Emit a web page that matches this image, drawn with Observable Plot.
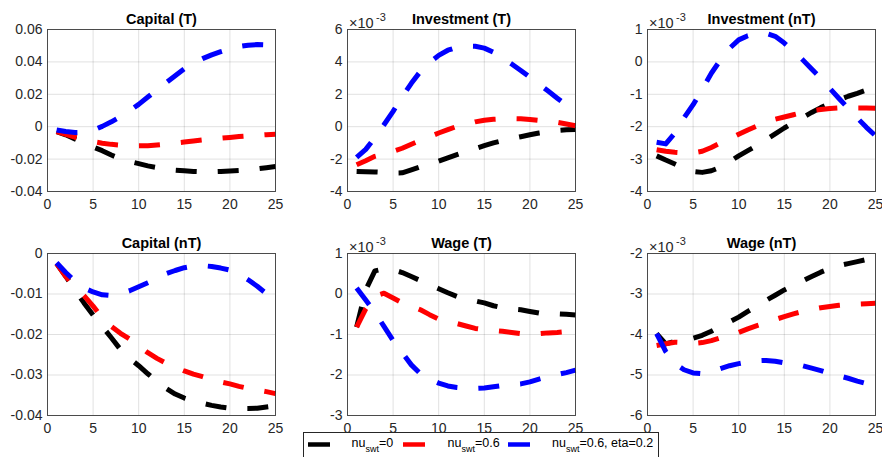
<!DOCTYPE html>
<html>
<head>
<meta charset="utf-8">
<script src="https://cdn.jsdelivr.net/npm/d3@7"></script>
<script src="https://cdn.jsdelivr.net/npm/@observablehq/plot@0.6"></script>
<style>
  html, body { margin: 0; padding: 0; background: #fff; }
  #wrap { position: relative; width: 882px; height: 457px; overflow: hidden; background: #fff;
          font-family: "Liberation Sans", Arial, Helvetica, sans-serif; }
  .panel { position: absolute; width: 300px; }
  .panel svg { display: block; }
  #legend { position: absolute; left: 303px; top: 432px; width: 356px; height: 40px;
            border: 1px solid #262626; background: #fff; box-sizing: border-box; }
</style>
</head>
<body>
<div id="wrap"></div>
<script>
// ---------- data ----------
const steps = [1,2,3,4,5,6,7,8,9,10,11,12,13,14,15,16,17,18,19,20,21,22,23,24,25];
const xTicks = [0,5,10,15,20,25];

const seriesPrefix = "nu";
const seriesSub = "swt";
const seriesSuffix = ["=0", "=0.6", "=0.6, eta=0.2"];
const seriesNames = ["nu_swt=0", "nu_swt=0.6", "nu_swt=0.6, eta=0.2"];
const seriesColors = ["#000000", "#ff0000", "#0000ff"];

// Capital (T)
const capitalT_nu0   = [-0.0030,-0.0050,-0.0075,-0.0100,-0.0125,-0.0148,-0.0175,-0.0198,-0.0215,-0.0228,-0.0242,-0.0252,-0.0262,-0.0268,-0.0272,-0.0276,-0.0278,-0.0278,-0.0276,-0.0273,-0.0270,-0.0266,-0.0260,-0.0253,-0.0246];
const capitalT_nu06  = [-0.0030,-0.0048,-0.0065,-0.0080,-0.0092,-0.0102,-0.0109,-0.0114,-0.0117,-0.0118,-0.0117,-0.0113,-0.0108,-0.0101,-0.0095,-0.0088,-0.0082,-0.0076,-0.0071,-0.0066,-0.0061,-0.0057,-0.0053,-0.0049,-0.0046];
const capitalT_eta   = [-0.0020,-0.0030,-0.0036,-0.0035,-0.0022,0.0002,0.0030,0.0062,0.0098,0.0138,0.0183,0.0227,0.0271,0.0315,0.0358,0.0393,0.0420,0.0443,0.0463,0.0480,0.0495,0.0503,0.0507,0.0505,0.0500];
const capitalT_yTicks = [-0.04,-0.02,0,0.02,0.04,0.06];

// Investment (T)  (x10^-3)
const investT_nu0  = [-2.76,-2.78,-2.79,-2.82,-2.86,-2.85,-2.67,-2.48,-2.30,-2.12,-1.92,-1.72,-1.53,-1.35,-1.17,-1.00,-0.86,-0.73,-0.62,-0.50,-0.39,-0.30,-0.23,-0.19,-0.18];
const investT_nu06 = [-2.35,-2.10,-1.83,-1.68,-1.52,-1.33,-1.08,-0.85,-0.62,-0.39,-0.18,0.02,0.15,0.30,0.40,0.46,0.49,0.50,0.49,0.45,0.39,0.33,0.27,0.17,0.06];
const investT_eta  = [-1.90,-1.40,-0.67,0.12,0.95,1.85,2.68,3.42,3.95,4.40,4.72,4.90,4.98,4.97,4.85,4.60,4.25,3.87,3.47,3.05,2.63,2.20,1.76,1.33,0.90];
const investT_yTicks = [-4,-2,0,2,4,6];

// Investment (nT)  (x10^-3)
const investNT_nu0  = [-2.90,-3.03,-3.15,-3.28,-3.38,-3.41,-3.36,-3.25,-3.08,-2.90,-2.74,-2.58,-2.40,-2.22,-2.04,-1.88,-1.72,-1.56,-1.41,-1.28,-1.17,-1.06,-0.97,-0.87,-0.80];
const investNT_nu06 = [-2.71,-2.76,-2.79,-2.81,-2.81,-2.76,-2.64,-2.50,-2.37,-2.23,-2.10,-1.98,-1.87,-1.77,-1.70,-1.63,-1.56,-1.51,-1.47,-1.44,-1.42,-1.42,-1.42,-1.42,-1.43];
const investNT_eta  = [-2.48,-2.53,-2.20,-1.73,-1.32,-0.85,-0.35,0.06,0.42,0.68,0.81,0.88,0.88,0.79,0.58,0.33,0.07,-0.22,-0.50,-0.82,-1.13,-1.43,-1.73,-2.02,-2.28];
const investNT_yTicks = [-4,-3,-2,-1,0,1];

// Capital (nT)
const capitalNT_nu0  = [-0.0025,-0.0056,-0.0090,-0.0122,-0.0152,-0.0180,-0.0208,-0.0237,-0.0259,-0.0277,-0.0297,-0.0316,-0.0333,-0.0347,-0.0357,-0.0364,-0.0370,-0.0375,-0.0379,-0.0382,-0.0383,-0.0383,-0.0382,-0.0379,-0.0376];
const capitalNT_nu06 = [-0.0025,-0.0057,-0.0082,-0.0104,-0.0130,-0.0158,-0.0180,-0.0197,-0.0211,-0.0228,-0.0245,-0.0259,-0.0271,-0.0281,-0.0290,-0.0298,-0.0304,-0.0311,-0.0317,-0.0322,-0.0328,-0.0333,-0.0337,-0.0341,-0.0346];
const capitalNT_eta  = [-0.0023,-0.0047,-0.0068,-0.0085,-0.0095,-0.0102,-0.0104,-0.0099,-0.0092,-0.0082,-0.0072,-0.0062,-0.0050,-0.0042,-0.0035,-0.0031,-0.0030,-0.0032,-0.0036,-0.0041,-0.0051,-0.0065,-0.0081,-0.0099,-0.0114];
const capitalNT_yTicks = [-0.04,-0.03,-0.02,-0.01,0];

// Wage (T)  (x10^-3)
const wageT_nu0  = [-0.82,0.10,0.57,0.62,0.60,0.53,0.43,0.33,0.23,0.13,0.03,-0.06,-0.12,-0.17,-0.22,-0.29,-0.34,-0.37,-0.39,-0.43,-0.47,-0.48,-0.49,-0.50,-0.52];
const wageT_nu06 = [-0.82,-0.37,-0.05,0.02,-0.10,-0.22,-0.30,-0.39,-0.51,-0.62,-0.68,-0.73,-0.79,-0.85,-0.88,-0.90,-0.92,-0.95,-0.98,-0.99,-0.98,-0.96,-0.95,-0.93,-0.92];
const wageT_eta  = [0.15,-0.15,-0.45,-0.80,-1.15,-1.45,-1.75,-1.97,-2.10,-2.20,-2.27,-2.31,-2.33,-2.33,-2.32,-2.29,-2.26,-2.24,-2.22,-2.17,-2.10,-2.04,-1.99,-1.94,-1.88];
const wageT_yTicks = [-3,-2,-1,0,1];

// Wage (nT)  (x10^-3)
const wageNT_nu0  = [-3.98,-4.23,-4.17,-4.13,-4.09,-4.02,-3.92,-3.80,-3.69,-3.57,-3.43,-3.30,-3.16,-3.03,-2.90,-2.79,-2.68,-2.57,-2.46,-2.37,-2.30,-2.25,-2.20,-2.15,-2.12];
const wageNT_nu06 = [-4.27,-4.23,-4.19,-4.20,-4.22,-4.20,-4.15,-4.08,-4.02,-3.95,-3.86,-3.78,-3.71,-3.63,-3.56,-3.49,-3.43,-3.38,-3.34,-3.31,-3.28,-3.26,-3.25,-3.24,-3.23];
const wageNT_eta  = [-3.98,-4.42,-4.72,-4.87,-4.95,-4.97,-4.92,-4.84,-4.77,-4.72,-4.68,-4.65,-4.64,-4.66,-4.70,-4.73,-4.77,-4.83,-4.89,-4.96,-5.02,-5.08,-5.15,-5.21,-5.26];
const wageNT_yTicks = [-6,-5,-4,-3,-2];

const panels = [
  {title: "Capital (T)",     series: [capitalT_nu0, capitalT_nu06, capitalT_eta],   yTicks: capitalT_yTicks,   exp: false, col: 0, row: 0},
  {title: "Investment (T)",  series: [investT_nu0, investT_nu06, investT_eta],      yTicks: investT_yTicks,    exp: true,  col: 1, row: 0},
  {title: "Investment (nT)", series: [investNT_nu0, investNT_nu06, investNT_eta],   yTicks: investNT_yTicks,   exp: true,  col: 2, row: 0},
  {title: "Capital (nT)",    series: [capitalNT_nu0, capitalNT_nu06, capitalNT_eta],yTicks: capitalNT_yTicks,  exp: false, col: 0, row: 1},
  {title: "Wage (T)",        series: [wageT_nu0, wageT_nu06, wageT_eta],            yTicks: wageT_yTicks,      exp: true,  col: 1, row: 1},
  {title: "Wage (nT)",       series: [wageNT_nu0, wageNT_nu06, wageNT_eta],         yTicks: wageNT_yTicks,     exp: true,  col: 2, row: 1}
];

// ---------- layout ----------
const colX = [47, 347, 647];
const rowY = [29, 253];
const mL = 50, mR = 22, mT = 30, mB = 32, W = 300, H = 224;
const axisColor = "#262626";
const fontFamily = '"Liberation Sans", Arial, Helvetica, sans-serif';

const wrap = document.getElementById("wrap");

for (const p of panels) {
  const rows = [];
  p.series.forEach((vals, i) => vals.forEach((v, j) => rows.push({step: steps[j], value: v, series: seriesNames[i]})));
  const yDomain = [p.yTicks[0], p.yTicks[p.yTicks.length - 1]];
  const marks = [
    Plot.gridX({ticks: xTicks, stroke: "#000", strokeOpacity: 0.12}),
    Plot.gridY({ticks: p.yTicks, stroke: "#000", strokeOpacity: 0.12}),
    Plot.line(rows, {x: "step", y: "value", z: "series", stroke: "series",
      strokeWidth: 5, strokeDasharray: "21,21", strokeLinecap: "butt", strokeLinejoin: "round"}),
    Plot.frame({stroke: axisColor, strokeOpacity: 0.8}),
    Plot.axisX({ticks: xTicks, tickSize: 0, tickPadding: 8, tickFormat: d => String(d), label: null, color: axisColor, fontSize: 14}),
    Plot.axisY({ticks: p.yTicks, tickSize: 0, tickPadding: 5, tickFormat: d => String(d), label: null, color: axisColor, fontSize: 14}),
    Plot.text([p.title], {text: d => d, frameAnchor: "top", lineAnchor: "bottom", dy: -6,
      fontSize: 14.5, fontWeight: "bold", fill: "#000"})
  ];
  if (p.exp) {
    marks.push(Plot.text(["×10"], {text: d => d, frameAnchor: "top-left", textAnchor: "start", lineAnchor: "bottom",
      dx: 1.5, dy: -2, fontSize: 14.5, fill: axisColor}));
    marks.push(Plot.text(["-3"], {text: d => d, frameAnchor: "top-left", textAnchor: "start", lineAnchor: "bottom",
      dx: 28.5, dy: -9, fontSize: 11, fill: axisColor}));
  }
  const chart = Plot.plot({
    width: W, height: H,
    marginLeft: mL, marginRight: mR, marginTop: mT, marginBottom: mB,
    style: {fontFamily, fontSize: "14px", background: "transparent", overflow: "visible"},
    x: {domain: [0, 25], axis: null},
    y: {domain: yDomain, axis: null},
    color: {domain: seriesNames, range: seriesColors},
    marks
  });
  const div = document.createElement("div");
  div.className = "panel";
  div.style.left = (colX[p.col] - mL) + "px";
  div.style.top = (rowY[p.row] - mT) + "px";
  div.appendChild(chart);
  wrap.appendChild(div);
}

// ---------- legend ----------
const legend = document.createElement("div");
legend.id = "legend";
wrap.appendChild(legend);
const lsvg = d3.select(legend).append("svg").attr("width", 354).attr("height", 38)
  .style("display", "block").style("font-family", fontFamily);
const itemX = [4, 99, 204];
const textX = [47.5, 143.5, 248];
seriesNames.forEach((name, i) => {
  lsvg.append("line").attr("x1", itemX[i]).attr("x2", itemX[i] + 22).attr("y1", 11.5).attr("y2", 11.5)
    .attr("stroke", seriesColors[i]).attr("stroke-width", 4.5);
  const t = lsvg.append("text").attr("x", textX[i]).attr("y", 13.5).attr("font-size", 12.5).attr("fill", "#000");
  t.append("tspan").text(seriesPrefix);
  t.append("tspan").attr("dy", 5).attr("font-size", 9).text(seriesSub);
  t.append("tspan").attr("dy", -5).text(seriesSuffix[i]);
});
</script>
</body>
</html>
